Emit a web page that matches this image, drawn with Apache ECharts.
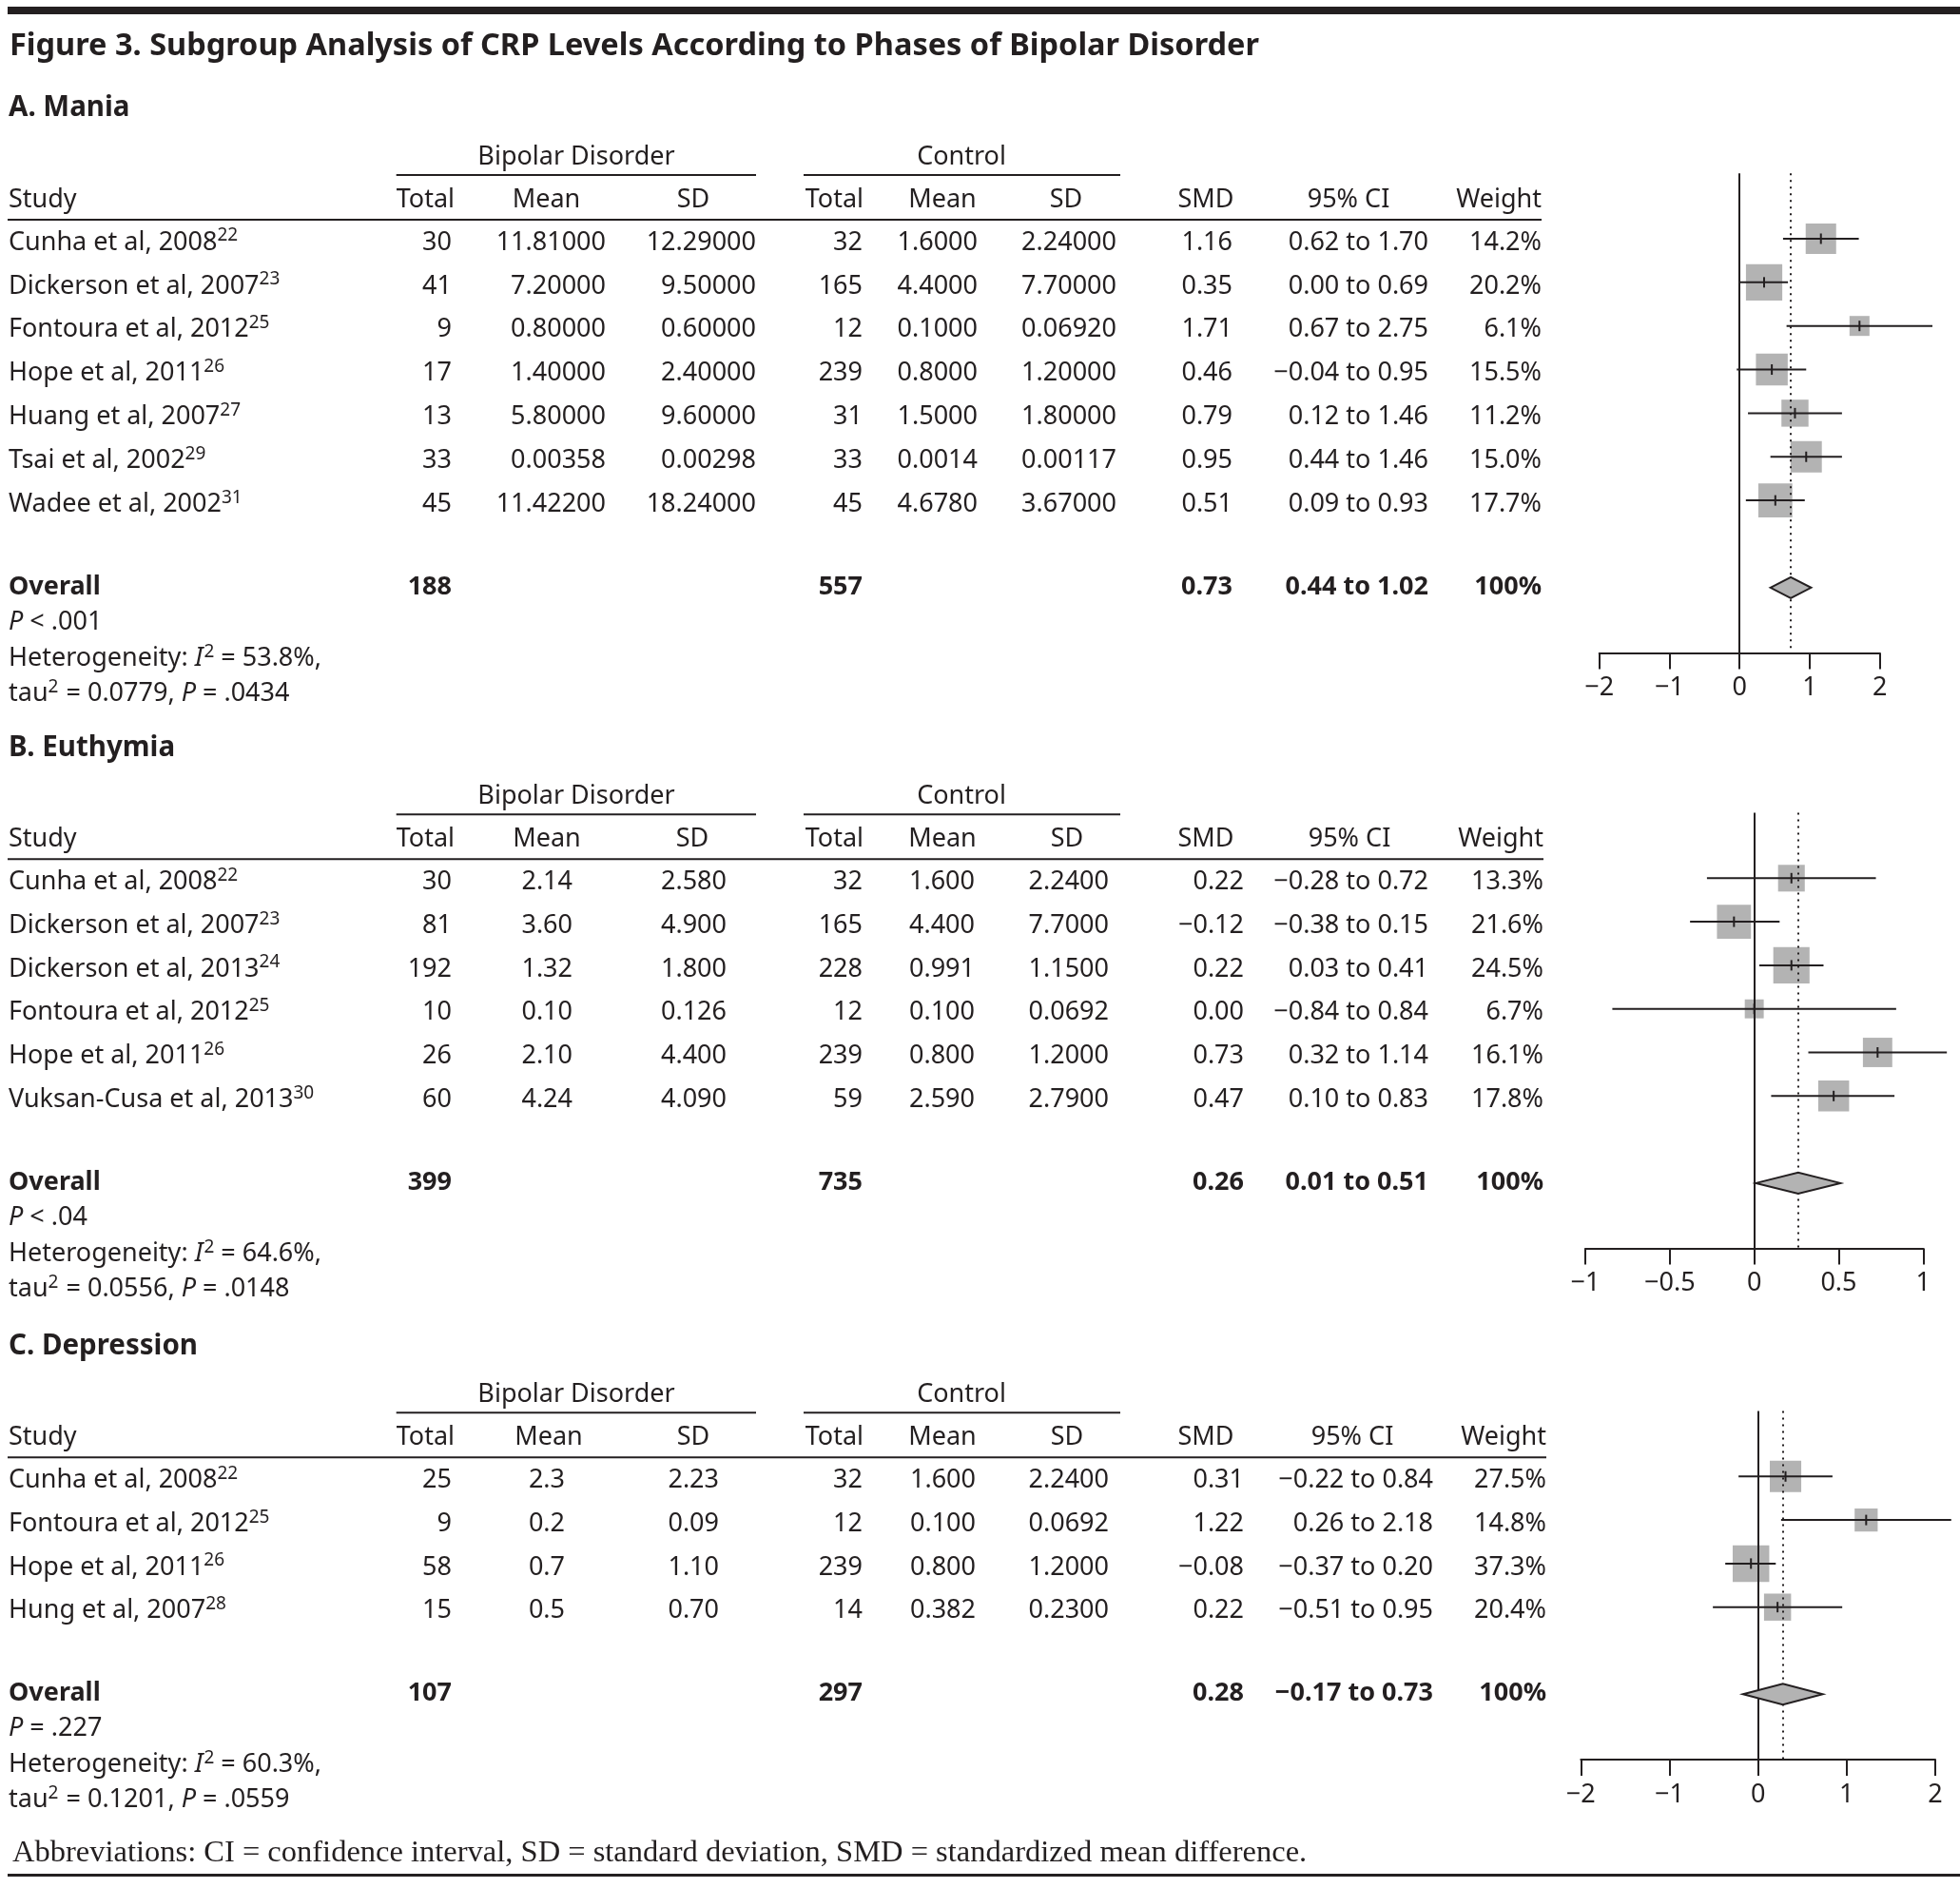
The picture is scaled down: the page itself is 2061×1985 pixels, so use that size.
<!DOCTYPE html>
<html><head><meta charset="utf-8">
<script src="https://cdn.jsdelivr.net/npm/echarts@6/dist/echarts.min.js"></script>
<style>html,body{margin:0;padding:0;background:#fff}#c{width:2061px;height:1985px}</style>
</head><body><div id="c"></div>
<script>
// ---------------- DATA ----------------
const titleText = 'Figure 3. Subgroup Analysis of CRP Levels According to Phases of Bipolar Disorder';
const footerText = 'Abbreviations: CI = confidence interval, SD = standard deviation, SMD = standardized mean difference.';
const colHeaders = ['Study', 'Total', 'Mean', 'SD', 'Total', 'Mean', 'SD', 'SMD', '95% CI', 'Weight'];
const groupHeaders = ['Bipolar Disorder', 'Control'];

// A. Mania
const maniaStudies = ['Cunha et al, 2008', 'Dickerson et al, 2007', 'Fontoura et al, 2012', 'Hope et al, 2011', 'Huang et al, 2007', 'Tsai et al, 2002', 'Wadee et al, 2002'];
const maniaRefs = ['22', '23', '25', '26', '27', '29', '31'];
const maniaBdTotal = [30, 41, 9, 17, 13, 33, 45];
const maniaBdMean = ['11.81000', '7.20000', '0.80000', '1.40000', '5.80000', '0.00358', '11.42200'];
const maniaBdSD = ['12.29000', '9.50000', '0.60000', '2.40000', '9.60000', '0.00298', '18.24000'];
const maniaCtTotal = [32, 165, 12, 239, 31, 33, 45];
const maniaCtMean = ['1.6000', '4.4000', '0.1000', '0.8000', '1.5000', '0.0014', '4.6780'];
const maniaCtSD = ['2.24000', '7.70000', '0.06920', '1.20000', '1.80000', '0.00117', '3.67000'];
const maniaSMD = [1.16, 0.35, 1.71, 0.46, 0.79, 0.95, 0.51];
const maniaLo = [0.62, 0.00, 0.67, -0.04, 0.12, 0.44, 0.09];
const maniaHi = [1.70, 0.69, 2.75, 0.95, 1.46, 1.46, 0.93];
const maniaWeight = [14.2, 20.2, 6.1, 15.5, 11.2, 15.0, 17.7];
const maniaOverall = [188, 557, 0.73, 0.44, 1.02, 100];
const maniaStats = ['< .001', '53.8%', '0.0779', '.0434'];
const maniaTicks = [-2, -1, 0, 1, 2];

// B. Euthymia
const euthStudies = ['Cunha et al, 2008', 'Dickerson et al, 2007', 'Dickerson et al, 2013', 'Fontoura et al, 2012', 'Hope et al, 2011', 'Vuksan-Cusa et al, 2013'];
const euthRefs = ['22', '23', '24', '25', '26', '30'];
const euthBdTotal = [30, 81, 192, 10, 26, 60];
const euthBdMean = ['2.14', '3.60', '1.32', '0.10', '2.10', '4.24'];
const euthBdSD = ['2.580', '4.900', '1.800', '0.126', '4.400', '4.090'];
const euthCtTotal = [32, 165, 228, 12, 239, 59];
const euthCtMean = ['1.600', '4.400', '0.991', '0.100', '0.800', '2.590'];
const euthCtSD = ['2.2400', '7.7000', '1.1500', '0.0692', '1.2000', '2.7900'];
const euthSMD = [0.22, -0.12, 0.22, 0.00, 0.73, 0.47];
const euthLo = [-0.28, -0.38, 0.03, -0.84, 0.32, 0.10];
const euthHi = [0.72, 0.15, 0.41, 0.84, 1.14, 0.83];
const euthWeight = [13.3, 21.6, 24.5, 6.7, 16.1, 17.8];
const euthOverall = [399, 735, 0.26, 0.01, 0.51, 100];
const euthStats = ['< .04', '64.6%', '0.0556', '.0148'];
const euthTicks = [-1, -0.5, 0, 0.5, 1];

// C. Depression
const depStudies = ['Cunha et al, 2008', 'Fontoura et al, 2012', 'Hope et al, 2011', 'Hung et al, 2007'];
const depRefs = ['22', '25', '26', '28'];
const depBdTotal = [25, 9, 58, 15];
const depBdMean = ['2.3', '0.2', '0.7', '0.5'];
const depBdSD = ['2.23', '0.09', '1.10', '0.70'];
const depCtTotal = [32, 12, 239, 14];
const depCtMean = ['1.600', '0.100', '0.800', '0.382'];
const depCtSD = ['2.2400', '0.0692', '1.2000', '0.2300'];
const depSMD = [0.31, 1.22, -0.08, 0.22];
const depLo = [-0.22, 0.26, -0.37, -0.51];
const depHi = [0.84, 2.18, 0.20, 0.95];
const depWeight = [27.5, 14.8, 37.3, 20.4];
const depOverall = [107, 297, 0.28, -0.17, 0.73, 100];
const depStats = ['= .227', '60.3%', '0.1201', '.0559'];
const depTicks = [-2, -1, 0, 1, 2];

// ---------------- LAYOUT / STYLE ----------------
const INK = '#231f20';
const FONT = '"Noto Sans", "Open Sans", sans-serif';
const FS = 27;
const BOX = '#b3b3b3';

const panels = [
  { label: 'A. Mania', studies: maniaStudies, refs: maniaRefs, bdTotal: maniaBdTotal, bdMean: maniaBdMean, bdSD: maniaBdSD,
    ctTotal: maniaCtTotal, ctMean: maniaCtMean, ctSD: maniaCtSD, smd: maniaSMD, lo: maniaLo, hi: maniaHi, w: maniaWeight,
    overall: maniaOverall, stats: maniaStats, ticks: maniaTicks,
    grid: { left: 1681.7, width: 295, top: 182.2, height: 504.4 }, box: 8.5,
    cols: { total: 475, mean: 637, sd: 795, cTotal: 907, cMean: 1028, cSD: 1174, smd: 1296, ci: 1502, weight: 1621 },
    head: { total: 478, mean: 574.5, sd: 729, cTotal: 908, cMean: 991, cSD: 1121, smd: 1268, ci: 1418, weight: 1621, bd: 606, ct: 1011 } },
  { label: 'B. Euthymia', studies: euthStudies, refs: euthRefs, bdTotal: euthBdTotal, bdMean: euthBdMean, bdSD: euthBdSD,
    ctTotal: euthCtTotal, ctMean: euthCtMean, ctSD: euthCtSD, smd: euthSMD, lo: euthLo, hi: euthHi, w: euthWeight,
    overall: euthOverall, stats: euthStats, ticks: euthTicks,
    grid: { left: 1667, width: 355.3, top: 854.6, height: 458 }, box: 7.7,
    cols: { total: 475, mean: 602, sd: 764, cTotal: 907, cMean: 1025, cSD: 1166, smd: 1308, ci: 1502, weight: 1623 },
    head: { total: 478, mean: 575, sd: 728, cTotal: 908, cMean: 991, cSD: 1122, smd: 1268, ci: 1419, weight: 1623, bd: 606, ct: 1011 } },
  { label: 'C. Depression', studies: depStudies, refs: depRefs, bdTotal: depBdTotal, bdMean: depBdMean, bdSD: depBdSD,
    ctTotal: depCtTotal, ctMean: depCtMean, ctSD: depCtSD, smd: depSMD, lo: depLo, hi: depHi, w: depWeight,
    overall: depOverall, stats: depStats, ticks: depTicks,
    grid: { left: 1662.3, width: 372.7, top: 1483.6, height: 366.4 }, box: 6.3,
    cols: { total: 475, mean: 594, sd: 756, cTotal: 907, cMean: 1026, cSD: 1166, smd: 1308, ci: 1507, weight: 1626 },
    head: { total: 478, mean: 577, sd: 729, cTotal: 908, cMean: 991, cSD: 1122, smd: 1268, ci: 1422, weight: 1626, bd: 606, ct: 1011 } }
];

const minus = v => (v < 0 ? '\u2212' : '') + Math.abs(v);
const f2 = v => (v < 0 ? '\u2212' : '') + Math.abs(v).toFixed(2);

// ---------------- CHART ----------------
const chart = echarts.init(document.getElementById('c'), null, { renderer: 'canvas' });

function studyRenderer(factor) {
  return function (params, api) {
    const y = api.value(1);
    const c = api.coord([api.value(0), y]);
    const cl = api.coord([api.value(2), y]);
    const ch = api.coord([api.value(3), y]);
    const s = factor * Math.sqrt(api.value(4));
    return { type: 'group', children: [
      { type: 'rect', shape: { x: c[0] - s / 2, y: c[1] - s / 2, width: s, height: s }, style: { fill: BOX } },
      { type: 'line', shape: { x1: cl[0], y1: cl[1], x2: ch[0], y2: ch[1] }, style: { stroke: INK, lineWidth: 2 } },
      { type: 'line', shape: { x1: c[0], y1: c[1] - 5.5, x2: c[0], y2: c[1] + 5.5 }, style: { stroke: INK, lineWidth: 2 } }
    ] };
  };
}
function diamondRenderer(params, api) {
  const y = api.value(1);
  const c = api.coord([api.value(0), y]);
  const cl = api.coord([api.value(2), y]);
  const ch = api.coord([api.value(3), y]);
  return { type: 'polygon', shape: { points: [[cl[0], c[1]], [c[0], c[1] - 11], [ch[0], c[1]], [c[0], c[1] + 11]] },
    style: { fill: BOX, stroke: INK, lineWidth: 2 } };
}

const grids = [], xAxes = [], yAxes = [], series = [];
panels.forEach((p, k) => {
  const n = p.studies.length;
  grids.push(Object.assign({ outerBoundsMode: 'none', containLabel: false }, p.grid));
  const t = p.ticks;
  xAxes.push({ type: 'value', gridIndex: k, min: t[0], max: t[t.length - 1], interval: t[1] - t[0], position: 'bottom',
    axisLine: { show: true, onZero: false, lineStyle: { color: INK, width: 2 } },
    axisTick: { show: true, inside: false, length: 17, lineStyle: { color: INK, width: 2 } },
    axisLabel: { fontSize: FS, fontFamily: FONT, color: INK, margin: 23.5, formatter: minus },
    splitLine: { show: false } });
  yAxes.push({ type: 'value', gridIndex: k, inverse: true, min: -1.5, max: n + 2.5, show: false });
  const data = p.smd.map((v, i) => [v, i, p.lo[i], p.hi[i], p.w[i]]);
  series.push({ type: 'custom', xAxisIndex: k, yAxisIndex: k, clip: false, silent: true, z: 3,
    renderItem: studyRenderer(p.box), data: data,
    markLine: { silent: true, symbol: 'none', label: { show: false }, z: 4,
      data: [
        { xAxis: 0, lineStyle: { color: INK, width: 2, type: 'solid' } },
        { xAxis: p.overall[2], lineStyle: { color: INK, width: 2, type: [2, 5] } }
      ] } });
  series.push({ type: 'custom', xAxisIndex: k, yAxisIndex: k, clip: false, silent: true, z: 5,
    renderItem: diamondRenderer, data: [[p.overall[2], n + 1, p.overall[3], p.overall[4]]] });
});

chart.setOption({ animation: false, backgroundColor: '#fff', grid: grids, xAxis: xAxes, yAxis: yAxes, series: series });

// ---------------- TEXT / RULES ----------------
const ctx = document.createElement('canvas').getContext('2d');
function measure(text, o) {
  ctx.font = `${o.style || 'normal'} ${o.weight || 'normal'} ${o.size || FS}px ${o.family || FONT}`;
  return ctx.measureText(text).width;
}
function T(x, y, text, o) {
  o = o || {};
  return { type: 'text', x: x, y: y, silent: true, z: 10,
    style: { text: text, fill: o.fill || INK, fontSize: o.size || FS, fontFamily: o.family || FONT,
      fontWeight: o.weight || 'normal', fontStyle: o.style || 'normal', align: o.align || 'left', verticalAlign: 'middle' } };
}
function runs(x, y, parts) {
  const out = []; let cx = x;
  parts.forEach(p => { out.push(T(cx, y + (p.dy || 0), p.t, p)); cx += measure(p.t, p) + (p.gap || 0); });
  return out;
}
function L(x1, y1, x2, y2, w) {
  return { type: 'line', silent: true, z: 10, shape: { x1, y1, x2, y2 }, style: { stroke: INK, lineWidth: w || 2 } };
}

const g = [];
g.push({ type: 'rect', silent: true, shape: { x: 8, y: 7, width: 2053, height: 8 }, style: { fill: INK } });
g.push(T(10, 49, titleText, { size: 32.5, weight: 'bold' }));
g.push(T(13, 1948, footerText, { family: '"Liberation Serif", serif', size: 32.5 }));
g.push(L(8, 1971.5, 2061, 1971.5, 3));

const SUP = { size: 19, dy: -7 };
panels.forEach((p, k) => {
  const n = p.studies.length;
  const ry = i => chart.convertToPixel({ gridIndex: k }, [0, i])[1];
  const y0 = ry(0);
  const c = p.cols, h = p.head;
  g.push(T(9, y0 - 137, p.label, { size: 29.5, weight: 'bold' }));
  g.push(T(h.bd, y0 - 85.5, groupHeaders[0], { align: 'center' }));
  g.push(T(h.ct, y0 - 85.5, groupHeaders[1], { align: 'center' }));
  g.push(L(416.7, y0 - 67, 795, y0 - 67));
  g.push(L(845, y0 - 67, 1178, y0 - 67));
  const hy = y0 - 40.5;
  g.push(T(9, hy, colHeaders[0]));
  g.push(T(h.total, hy, colHeaders[1], { align: 'right' }));
  g.push(T(h.mean, hy, colHeaders[2], { align: 'center' }));
  g.push(T(h.sd, hy, colHeaders[3], { align: 'center' }));
  g.push(T(h.cTotal, hy, colHeaders[4], { align: 'right' }));
  g.push(T(h.cMean, hy, colHeaders[5], { align: 'center' }));
  g.push(T(h.cSD, hy, colHeaders[6], { align: 'center' }));
  g.push(T(h.smd, hy, colHeaders[7], { align: 'center' }));
  g.push(T(h.ci, hy, colHeaders[8], { align: 'center' }));
  g.push(T(h.weight, hy, colHeaders[9], { align: 'right' }));
  g.push(L(8, y0 - 20, h.weight, y0 - 20));

  for (let i = 0; i < n; i++) {
    const y = ry(i) + 4;
    runs(9, y, [{ t: p.studies[i] }, Object.assign({ t: p.refs[i] }, SUP)]).forEach(e => g.push(e));
    g.push(T(c.total, y, String(p.bdTotal[i]), { align: 'right' }));
    g.push(T(c.mean, y, p.bdMean[i], { align: 'right' }));
    g.push(T(c.sd, y, p.bdSD[i], { align: 'right' }));
    g.push(T(c.cTotal, y, String(p.ctTotal[i]), { align: 'right' }));
    g.push(T(c.cMean, y, p.ctMean[i], { align: 'right' }));
    g.push(T(c.cSD, y, p.ctSD[i], { align: 'right' }));
    g.push(T(c.smd, y, f2(p.smd[i]), { align: 'right' }));
    g.push(T(c.ci, y, f2(p.lo[i]) + ' to ' + f2(p.hi[i]), { align: 'right' }));
    g.push(T(c.weight, y, p.w[i].toFixed(1) + '%', { align: 'right' }));
  }
  const oy = ry(n + 1) - 0.5;
  const B = { weight: 'bold', align: 'right' };
  g.push(T(9, oy, 'Overall', { weight: 'bold' }));
  g.push(T(c.total, oy, String(p.overall[0]), B));
  g.push(T(c.cTotal, oy, String(p.overall[1]), B));
  g.push(T(c.smd, oy, f2(p.overall[2]), B));
  g.push(T(c.ci, oy, f2(p.overall[3]) + ' to ' + f2(p.overall[4]), B));
  g.push(T(c.weight, oy, p.overall[5] + '%', B));
  const s = p.stats;
  runs(9, oy + 36.8, [{ t: 'P', style: 'italic' }, { t: ' ' + s[0] }]).forEach(e => g.push(e));
  runs(9, oy + 74.9, [{ t: 'Heterogeneity: ' }, { t: 'I', style: 'italic', gap: 1 }, Object.assign({ t: '2' }, SUP), { t: ' = ' + s[1] + ',' }]).forEach(e => g.push(e));
  runs(9, oy + 111.8, [{ t: 'tau' }, Object.assign({ t: '2', gap: 1 }, SUP), { t: ' = ' + s[2] + ', ' }, { t: 'P', style: 'italic' }, { t: ' = ' + s[3] }]).forEach(e => g.push(e));
});

chart.setOption({ graphic: { elements: g } });
</script>
</body></html>
